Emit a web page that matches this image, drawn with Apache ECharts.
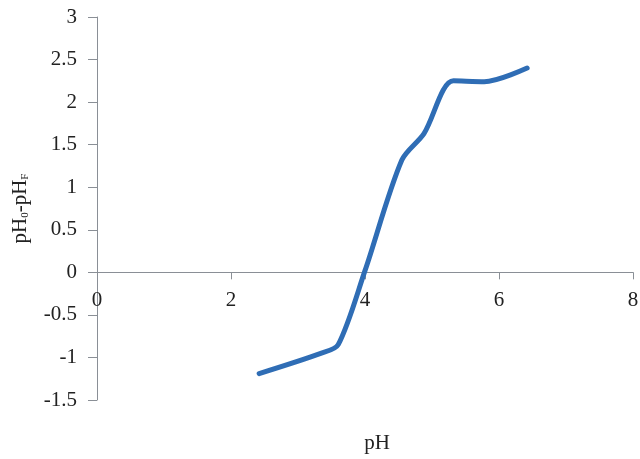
<!DOCTYPE html>
<html>
<head>
<meta charset="utf-8">
<script src="https://cdn.jsdelivr.net/npm/echarts@6/dist/echarts.min.js"></script>
<style>html,body{margin:0;padding:0;background:#fff}#c{width:640px;height:459px}</style>
</head>
<body>
<div id="c"></div>
<script>
const phX = [2.42, 3.35, 3.6, 4.0, 4.55, 4.88, 5.32, 5.78, 6.42];
const deltaPH = [-1.19, -0.95, -0.85, 0.02, 1.32, 1.63, 2.25, 2.24, 2.40];
const xTicks = [0, 2, 4, 6, 8];
const yTicks = [-1.5, -1, -0.5, 0, 0.5, 1, 1.5, 2, 2.5, 3];

(function () {
const chart = echarts.init(document.getElementById('c'), null, {renderer: 'canvas'});
const font = 'Liberation Serif';
const axisColor = '#8a8f96';
const H = 459, gTop = 17, gBottom = 59;
const yMin = yTicks[0], yMax = yTicks[yTicks.length - 1];
const plotH = H - gTop - gBottom;
const zeroPix = gTop + plotH * (yMax - 0) / (yMax - yMin);
chart.setOption({
  animation: false,
  grid: [
    {left: 97, right: 7, top: gTop, bottom: gBottom, outerBoundsMode: 'none'},
    {left: 97, right: 7, top: gTop, bottom: H - zeroPix, outerBoundsMode: 'none'}
  ],
  xAxis: [{
    gridIndex: 0, type: 'value', min: xTicks[0], max: xTicks[xTicks.length - 1], interval: 2,
    show: false
  }, {
    gridIndex: 1, type: 'value', min: xTicks[0], max: xTicks[xTicks.length - 1], interval: 2,
    position: 'bottom',
    name: 'pH', nameLocation: 'middle', nameGap: 161,
    nameTextStyle: {fontFamily: font, fontSize: 21, color: '#222', padding: [0, 0, 0, 24]},
    axisLine: {onZero: false, lineStyle: {color: axisColor, width: 1}},
    axisTick: {show: true, length: 7, lineStyle: {color: axisColor}},
    axisLabel: {fontFamily: font, fontSize: 21, color: '#222', margin: 18},
    splitLine: {show: false}
  }],
  yAxis: [{
    gridIndex: 0, type: 'value', min: yMin, max: yMax, interval: 0.5,
    name: 'pH{sub|0}-pH{sub|F}', nameLocation: 'middle', nameGap: 66,
    nameTextStyle: {fontFamily: font, fontSize: 21, color: '#222',
      rich: {sub: {fontFamily: font, fontSize: 11, color: '#222', verticalAlign: 'bottom', padding: [9, 0, 0, 0]}}},
    axisLine: {show: true, onZero: false, lineStyle: {color: axisColor, width: 1}},
    axisTick: {show: true, length: 9, lineStyle: {color: axisColor}},
    axisLabel: {fontFamily: font, fontSize: 21, color: '#222', margin: 20},
    splitLine: {show: false}
  }, {
    gridIndex: 1, type: 'value', min: 0, max: 1, show: false
  }],
  series: [{
    type: 'line', xAxisIndex: 0, yAxisIndex: 0,
    data: phX.map((x, i) => [x, deltaPH[i]]),
    smooth: 0.3,
    symbol: 'none',
    lineStyle: {color: '#2f6db5', width: 5, cap: 'round'}
  }]
});
})();
</script>
</body>
</html>
